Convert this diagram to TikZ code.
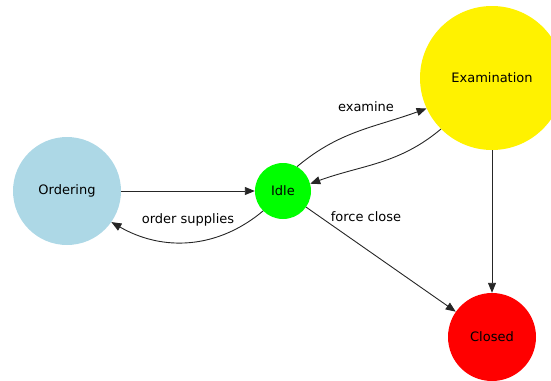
\documentclass[tikz,border=0pt]{standalone}
\usepackage{fontspec}
\setmainfont{DejaVu Sans}
\usetikzlibrary{arrows.meta}
\definecolor{lblue}{HTML}{ADD8E6}
\begin{document}
\begin{tikzpicture}[x=1pt,y=-1pt,
  state/.style={circle,inner sep=0pt,font=\fontsize{13}{15}\selectfont},
  edge/.style={draw=black!85,line width=0.9pt,-{Triangle[length=10pt,width=8pt]}},
  lbl/.style={font=\fontsize{13}{15}\selectfont,inner sep=0pt}]
\useasboundingbox (0,0) rectangle (551,380);
\begin{scope}
\clip (0,0) rectangle (551,380);
\node[state,fill=lblue,minimum size=108pt] (ord) at (67,191) {Ordering};
\node[state,fill=green,minimum size=56pt] (idle) at (283,191) {Idle};
\node[state,fill=yellow,minimum size=144pt] (exam) at (492,78) {Examination};
\node[state,fill=red,minimum size=88pt] (closed) at (492,337) {Closed};
\end{scope}
\draw[edge] (ord) -- (idle);
\draw[edge] (idle.225) to[out=220,in=-30] (ord.-35);
\draw[edge] (idle.60) to[out=40,in=200] (exam.205);
\draw[edge] (exam.225) to[out=220,in=20] (idle.15);
\draw[edge] (idle) -- (closed);
\draw[edge] (exam) -- (closed);
\node[lbl] (l1) at (188,220) {order supplies};
\node[lbl] (l2) at (366,107) {examine};
\node[lbl] (l3) at (366,217) {force close};
\end{tikzpicture}
\end{document}
